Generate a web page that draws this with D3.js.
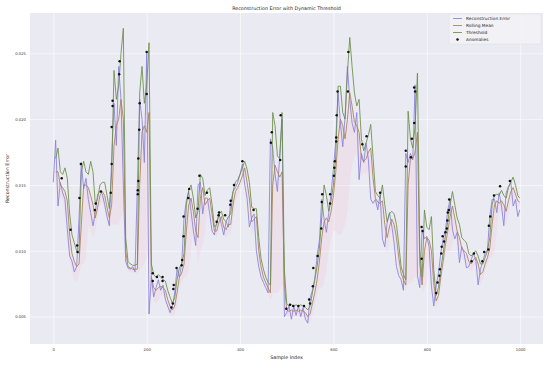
<!DOCTYPE html>
<html><head><meta charset="utf-8">
<script src="https://cdn.jsdelivr.net/npm/d3@7"></script>
<style>body{margin:0;background:#fff}svg{display:block;font-family:"DejaVu Sans",sans-serif}</style>
</head><body><svg id="c" width="550" height="366"></svg>
<script>
const titleText = "Reconstruction Error with Dynamic Threshold";
const xLabel = "Sample Index";
const yLabel = "Reconstruction Error";
const xTicks = [0, 200, 400, 600, 800, 1000];
const yTicks = [0.005, 0.010, 0.015, 0.020, 0.025];
const seriesNames = ["Reconstruction Error", "Rolling Mean", "Threshold", "Anomalies"];
const sampleIndex = d3.range(0, 1000, 5).concat([999]);
const reconError = [
0.0152,0.0184,0.0134,0.0152,0.0144,0.0139,0.0116,0.0096,0.0092,0.0084,
0.0088,0.0124,0.0167,0.0147,0.0155,0.0139,0.0129,0.0119,0.0129,0.0143,
0.0145,0.0143,0.0135,0.0126,0.0119,0.0170,0.0212,0.0180,0.0240,0.0215,
0.0150,0.0092,0.0087,0.0086,0.0088,0.0084,0.0150,0.0215,0.0200,0.0167,
0.0250,0.0052,0.0080,0.0065,0.0072,0.0078,0.0070,0.0074,0.0063,0.0058,
0.0053,0.0058,0.0068,0.0086,0.0080,0.0090,0.0125,0.0138,0.0145,0.0130,
0.0115,0.0104,0.0150,0.0152,0.0128,0.0140,0.0140,0.0128,0.0115,0.0112,
0.0122,0.0128,0.0120,0.0112,0.0122,0.0118,0.0137,0.0145,0.0148,0.0152,
0.0158,0.0166,0.0150,0.0140,0.0118,0.0125,0.0128,0.0100,0.0088,0.0080,
0.0076,0.0072,0.0068,0.0185,0.0178,0.0158,0.0145,0.0172,0.0200,0.0050,
0.0053,0.0058,0.0048,0.0058,0.0051,0.0058,0.0050,0.0057,0.0048,0.0045,
0.0064,0.0070,0.0078,0.0096,0.0108,0.0139,0.0124,0.0114,0.0129,0.0144,
0.0162,0.0184,0.0220,0.0197,0.0179,0.0202,0.0240,0.0215,0.0197,0.0190,
0.0205,0.0154,0.0174,0.0167,0.0182,0.0169,0.0139,0.0136,0.0139,0.0131,
0.0143,0.0109,0.0103,0.0121,0.0129,0.0119,0.0106,0.0088,0.0081,0.0078,
0.0070,0.0174,0.0167,0.0174,0.0169,0.0226,0.0081,0.0072,0.0116,0.0109,
0.0111,0.0103,0.0073,0.0058,0.0073,0.0083,0.0098,0.0109,0.0116,0.0131,
0.0139,0.0116,0.0109,0.0114,0.0091,0.0103,0.0098,0.0087,0.0088,0.0093,
0.0098,0.0093,0.0074,0.0086,0.0092,0.0098,0.0101,0.0126,0.0139,0.0139,
0.0129,0.0144,0.0134,0.0119,0.0144,0.0149,0.0152,0.0134,0.0139,0.0126,
0.0131];
const rollingMean = [
null,0.0160,0.0160,0.0150,0.0148,0.0145,0.0138,0.0112,0.0098,0.0092,
0.0088,0.0090,0.0120,0.0150,0.0150,0.0148,0.0142,0.0135,0.0125,0.0133,
0.0142,0.0145,0.0142,0.0133,0.0125,0.0135,0.0180,0.0195,0.0200,0.0215,
0.0200,0.0100,0.0088,0.0087,0.0086,0.0086,0.0086,0.0150,0.0190,0.0195,
0.0190,0.0205,0.0080,0.0072,0.0070,0.0072,0.0073,0.0072,0.0070,0.0063,
0.0058,0.0055,0.0058,0.0068,0.0080,0.0083,0.0090,0.0115,0.0135,0.0140,
0.0130,0.0115,0.0110,0.0140,0.0148,0.0135,0.0138,0.0140,0.0128,0.0115,
0.0115,0.0122,0.0126,0.0118,0.0116,0.0120,0.0120,0.0135,0.0145,0.0148,
0.0152,0.0157,0.0163,0.0152,0.0140,0.0122,0.0124,0.0126,0.0100,0.0088,
0.0080,0.0076,0.0072,0.0068,0.0150,0.0165,0.0160,0.0156,0.0160,0.0075,
0.0055,0.0054,0.0055,0.0054,0.0055,0.0054,0.0055,0.0054,0.0053,0.0050,
0.0052,0.0060,0.0068,0.0078,0.0092,0.0110,0.0122,0.0125,0.0122,0.0130,
0.0142,0.0160,0.0185,0.0200,0.0195,0.0185,0.0200,0.0220,0.0210,0.0198,
0.0195,0.0190,0.0170,0.0168,0.0170,0.0175,0.0178,0.0155,0.0140,0.0137,
0.0136,0.0138,0.0120,0.0110,0.0118,0.0124,0.0120,0.0110,0.0095,0.0083,
0.0078,0.0074,0.0150,0.0170,0.0170,0.0175,0.0190,0.0090,0.0074,0.0100,
0.0110,0.0108,0.0100,0.0075,0.0062,0.0066,0.0080,0.0092,0.0105,0.0115,
0.0126,0.0134,0.0125,0.0115,0.0110,0.0102,0.0100,0.0098,0.0092,0.0090,
0.0093,0.0095,0.0090,0.0082,0.0084,0.0090,0.0095,0.0102,0.0120,0.0135,
0.0138,0.0136,0.0138,0.0135,0.0130,0.0138,0.0145,0.0148,0.0143,0.0138,
0.0137];
const threshold = [
null,0.0170,0.0178,0.0160,0.0158,0.0163,0.0155,0.0128,0.0112,0.0106,
0.0100,0.0098,0.0160,0.0168,0.0160,0.0158,0.0168,0.0160,0.0135,0.0140,
0.0150,0.0152,0.0152,0.0142,0.0132,0.0160,0.0237,0.0215,0.0225,0.0250,
0.0269,0.0110,0.0092,0.0090,0.0089,0.0089,0.0090,0.0220,0.0240,0.0212,
0.0225,0.0258,0.0090,0.0082,0.0080,0.0082,0.0080,0.0078,0.0077,0.0070,
0.0065,0.0060,0.0064,0.0078,0.0087,0.0090,0.0098,0.0135,0.0146,0.0150,
0.0140,0.0125,0.0130,0.0158,0.0155,0.0142,0.0146,0.0148,0.0135,0.0118,
0.0120,0.0128,0.0130,0.0124,0.0122,0.0126,0.0128,0.0145,0.0152,0.0154,
0.0158,0.0163,0.0168,0.0162,0.0152,0.0133,0.0132,0.0132,0.0110,0.0094,
0.0086,0.0080,0.0076,0.0074,0.0205,0.0195,0.0172,0.0170,0.0205,0.0085,
0.0060,0.0058,0.0059,0.0058,0.0059,0.0058,0.0059,0.0058,0.0057,0.0055,
0.0058,0.0068,0.0078,0.0088,0.0102,0.0125,0.0150,0.0142,0.0130,0.0138,
0.0150,0.0172,0.0225,0.0225,0.0205,0.0200,0.0235,0.0262,0.0240,0.0220,
0.0210,0.0215,0.0185,0.0176,0.0182,0.0188,0.0196,0.0170,0.0145,0.0142,
0.0140,0.0150,0.0135,0.0122,0.0128,0.0130,0.0128,0.0120,0.0105,0.0088,
0.0082,0.0078,0.0206,0.0185,0.0178,0.0195,0.0235,0.0100,0.0080,0.0131,
0.0118,0.0116,0.0126,0.0085,0.0066,0.0072,0.0086,0.0098,0.0112,0.0122,
0.0135,0.0145,0.0135,0.0125,0.0120,0.0110,0.0108,0.0106,0.0098,0.0096,
0.0098,0.0100,0.0096,0.0090,0.0090,0.0095,0.0100,0.0110,0.0135,0.0142,
0.0143,0.0142,0.0146,0.0142,0.0140,0.0148,0.0152,0.0156,0.0150,0.0142,
0.0140];
const lowerBand = [
null,0.0150,0.0142,0.0140,0.0138,0.0127,0.0121,0.0096,0.0084,0.0078,
0.0076,0.0082,0.0090,0.0090,0.0095,0.0120,0.0116,0.0110,0.0115,0.0126,
0.0134,0.0138,0.0132,0.0124,0.0118,0.0120,0.0120,0.0120,0.0120,0.0125,
0.0131,0.0090,0.0084,0.0084,0.0083,0.0083,0.0082,0.0085,0.0088,0.0090,
0.0095,0.0100,0.0070,0.0062,0.0060,0.0062,0.0066,0.0066,0.0063,0.0056,
0.0051,0.0050,0.0052,0.0058,0.0073,0.0076,0.0080,0.0080,0.0085,0.0100,
0.0120,0.0105,0.0090,0.0100,0.0105,0.0115,0.0130,0.0132,0.0121,0.0112,
0.0110,0.0116,0.0122,0.0112,0.0110,0.0114,0.0112,0.0125,0.0138,0.0142,
0.0146,0.0151,0.0158,0.0142,0.0128,0.0111,0.0116,0.0120,0.0090,0.0082,
0.0074,0.0072,0.0068,0.0062,0.0068,0.0068,0.0068,0.0070,0.0075,0.0065,
0.0050,0.0050,0.0050,0.0050,0.0050,0.0050,0.0050,0.0050,0.0049,0.0045,
0.0046,0.0052,0.0058,0.0068,0.0072,0.0072,0.0075,0.0085,0.0100,0.0110,
0.0115,0.0115,0.0112,0.0112,0.0115,0.0120,0.0130,0.0150,0.0165,0.0170,
0.0175,0.0165,0.0155,0.0160,0.0158,0.0162,0.0160,0.0140,0.0135,0.0132,
0.0132,0.0126,0.0105,0.0098,0.0108,0.0118,0.0112,0.0100,0.0085,0.0078,
0.0074,0.0070,0.0075,0.0075,0.0078,0.0080,0.0085,0.0080,0.0068,0.0072,
0.0075,0.0090,0.0074,0.0065,0.0058,0.0060,0.0074,0.0086,0.0098,0.0100,
0.0100,0.0105,0.0115,0.0105,0.0100,0.0094,0.0092,0.0090,0.0086,0.0084,
0.0088,0.0090,0.0084,0.0074,0.0078,0.0085,0.0090,0.0094,0.0095,0.0100,
0.0115,0.0130,0.0130,0.0128,0.0120,0.0128,0.0138,0.0140,0.0136,0.0134,
0.0134];
const anomalyIndex = [18,37,51,52,56,59,89,91,102,123,125,125,127,127,141,142,181,181,182,182,184,185,200,200,213,213,222,234,234,253,256,257,258,264,275,276,279,279,289,291,309,313,329,350,354,355,368,379,380,387,405,429,466,468,486,487,499,507,514,525,537,548,550,556,557,566,574,575,576,593,593,601,602,603,606,606,607,609,631,632,662,671,700,755,755,766,768,773,773,775,789,789,791,820,823,827,828,831,832,834,837,840,843,844,845,847,848,896,901,919,923,932,933,936,944,957,978];
const anomalyValue = [0.0155,0.0116,0.0104,0.0099,0.0140,0.0166,0.0131,0.0136,0.0145,0.0144,0.0166,0.0194,0.0210,0.0214,0.0234,0.0244,0.0143,0.0146,0.0153,0.0170,0.0192,0.0212,0.0219,0.0251,0.0083,0.0077,0.0080,0.0080,0.0077,0.0057,0.0060,0.0071,0.0074,0.0087,0.0089,0.0093,0.0111,0.0126,0.0140,0.0147,0.0132,0.0157,0.0144,0.0122,0.0127,0.0129,0.0127,0.0135,0.0138,0.0150,0.0168,0.0131,0.0182,0.0190,0.0169,0.0203,0.0056,0.0059,0.0058,0.0058,0.0058,0.0063,0.0060,0.0073,0.0087,0.0096,0.0117,0.0137,0.0143,0.0136,0.0143,0.0157,0.0163,0.0168,0.0183,0.0186,0.0203,0.0221,0.0221,0.0251,0.0181,0.0187,0.0144,0.0176,0.0164,0.0171,0.0185,0.0197,0.0224,0.0221,0.0094,0.0118,0.0115,0.0068,0.0076,0.0081,0.0086,0.0098,0.0103,0.0111,0.0107,0.0114,0.0117,0.0123,0.0129,0.0131,0.0139,0.0092,0.0098,0.0092,0.0099,0.0101,0.0119,0.0126,0.0142,0.0149,0.0153];

const colors = {err: "#8880dc", roll: "#a8805a", thr: "#6a8c46", anom: "#111111", band: "#f6b8cc"};
const svg = d3.select("#c");
const L = 30, R = 543, T = 13, B = 344;
const x = d3.scaleLinear().domain([-49.95, 1048.95]).range([L, R]);
const y = d3.scaleLinear().domain([0.00292, 0.02806]).range([B, T]);

svg.append("rect").attr("x", L).attr("y", T).attr("width", R - L).attr("height", B - T).attr("fill", "#EAEAF2");
const gx = svg.append("g").attr("transform", `translate(0,${B})`)
  .call(d3.axisBottom(x).tickValues(xTicks).tickSize(-(B - T)).tickPadding(4).tickFormat(d3.format("d")));
const gy = svg.append("g").attr("transform", `translate(${L},0)`)
  .call(d3.axisLeft(y).tickValues(yTicks).tickSize(-(R - L)).tickPadding(4).tickFormat(d3.format(".3f")));
[gx, gy].forEach(g => {
  g.select(".domain").remove();
  g.selectAll("line").attr("stroke", "#fff").attr("stroke-width", 0.6);
  g.selectAll("text").attr("fill", "#3a3a3a").attr("font-size", 3.8).attr("font-family", "DejaVu Sans");
});

const rows = sampleIndex.map((s, i) => ({s, e: reconError[i], m: rollingMean[i], t: threshold[i], lo: lowerBand[i]}));
const band = d3.area().defined(d => d.m != null).x(d => x(d.s)).y0(d => y(d.lo)).y1(d => y(d.m));
svg.append("path").attr("d", band(rows)).attr("fill", colors.band).attr("fill-opacity", 0.2);
const line = key => d3.line().defined(d => d[key] != null).x(d => x(d.s)).y(d => y(d[key]));
svg.append("path").attr("d", line("e")(rows)).attr("fill", "none").attr("stroke", colors.err).attr("stroke-width", 0.85);
svg.append("path").attr("d", line("m")(rows)).attr("fill", "none").attr("stroke", colors.roll).attr("stroke-width", 0.85);
svg.append("path").attr("d", line("t")(rows)).attr("fill", "none").attr("stroke", colors.thr).attr("stroke-width", 0.85);
svg.append("g").selectAll("circle").data(anomalyIndex.map((s, i) => [s, anomalyValue[i]])).join("circle")
  .attr("cx", d => x(d[0])).attr("cy", d => y(d[1])).attr("r", 1.25).attr("fill", colors.anom);

svg.append("text").attr("x", (L + R) / 2).attr("y", 9.5).attr("text-anchor", "middle").attr("font-size", 4.8).attr("fill", "#262626").text(titleText);
svg.append("text").attr("x", (L + R) / 2).attr("y", 359).attr("text-anchor", "middle").attr("font-size", 4.8).attr("fill", "#262626").text(xLabel);
svg.append("text").attr("transform", `translate(8.5,${(T + B) / 2}) rotate(-90)`).attr("text-anchor", "middle").attr("font-size", 4.8).attr("fill", "#262626").text(yLabel);

const lg = svg.append("g");
lg.append("rect").attr("x", 449).attr("y", 14).attr("width", 92).attr("height", 30).attr("rx", 1.5)
  .attr("fill", "#f2f2f7").attr("fill-opacity", 0.85).attr("stroke", "#d8d8e0").attr("stroke-width", 0.4);
const lc = [colors.err, colors.roll, colors.thr];
seriesNames.forEach((n, i) => {
  const yy = 18.5 + i * 7;
  if (i < 3) lg.append("line").attr("x1", 453).attr("x2", 462).attr("y1", yy).attr("y2", yy).attr("stroke", lc[i]).attr("stroke-width", 0.85);
  else lg.append("circle").attr("cx", 457.5).attr("cy", yy).attr("r", 1.25).attr("fill", colors.anom);
  lg.append("text").attr("x", 466).attr("y", yy + 1.5).attr("font-size", 4.3).attr("fill", "#262626").text(n);
});
</script></body></html>
